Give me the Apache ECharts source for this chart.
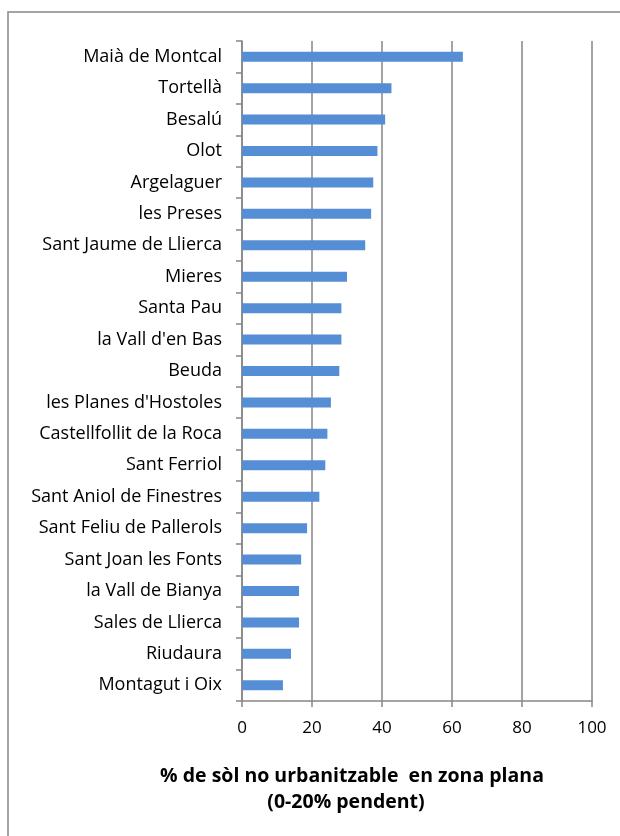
<!DOCTYPE html>
<html>
<head>
<meta charset="utf-8">
<script src="https://cdn.jsdelivr.net/npm/echarts@6/dist/echarts.min.js"></script>
<style>
  html, body { margin: 0; padding: 0; background: #fff; }
  #chart { width: 620px; height: 836px; }
</style>
</head>
<body>
<div id="chart"></div>
<script>
// municipalities, top to bottom as drawn
const municipis = [
  'Maià de Montcal', 'Tortellà', 'Besalú', 'Olot', 'Argelaguer', 'les Preses',
  'Sant Jaume de Llierca', 'Mieres', 'Santa Pau', "la Vall d'en Bas", 'Beuda',
  "les Planes d'Hostoles", 'Castellfollit de la Roca', 'Sant Ferriol',
  'Sant Aniol de Finestres', 'Sant Feliu de Pallerols', 'Sant Joan les Fonts',
  'la Vall de Bianya', 'Sales de Llierca', 'Riudaura', 'Montagut i Oix'
];
// % of non-developable land on flat terrain
const pctPla = [
  63.1, 42.7, 40.9, 38.7, 37.5, 36.9, 35.2, 30.0, 28.4, 28.4, 27.8,
  25.4, 24.4, 23.8, 22.1, 18.6, 16.9, 16.3, 16.3, 14.0, 11.7
];
const xTicks = [0, 20, 40, 60, 80, 100];
const axisTitle = ['% de sòl no urbanitzable  en zona plana', '(0-20% pendent)'];

const chart = echarts.init(document.getElementById('chart'));
const grey = '#868686';
const font = '"Open Sans", Lato, sans-serif';

chart.setOption({
  animation: false,
  textStyle: { fontFamily: font },
  grid: { left: 242, right: 28, top: 41, bottom: 135 },
  xAxis: {
    type: 'value',
    min: xTicks[0],
    max: xTicks[xTicks.length - 1],
    interval: 20,
    axisLine: { show: true, lineStyle: { color: grey, width: 1.5 } },
    axisTick: { show: true, length: 6, lineStyle: { color: grey, width: 1.5 } },
    splitLine: { show: true, lineStyle: { color: grey, width: 1.5 } },
    axisLabel: { color: '#000', fontSize: 17, margin: 19, fontFamily: font }
  },
  yAxis: {
    type: 'category',
    inverse: true,
    data: municipis,
    axisLine: { show: true, lineStyle: { color: grey, width: 1.5 } },
    axisTick: { show: true, length: 6, lineStyle: { color: grey, width: 1.5 } },
    axisLabel: { color: '#000', fontSize: 18, margin: 20, fontFamily: font }
  },
  series: [{
    type: 'bar',
    data: pctPla,
    barWidth: 10,
    itemStyle: { color: '#558ed5' }
  }],
  graphic: [
    {
      type: 'rect',
      shape: { x: 8, y: 12, width: 700, height: 900 },
      style: { fill: 'none', stroke: grey, lineWidth: 1.5 },
      silent: true
    },
    {
      type: 'text',
      x: 352, y: 776,
      style: {
        text: axisTitle[0], font: 'bold 19.5px ' + font, fill: '#000',
        align: 'center', verticalAlign: 'middle'
      }
    },
    {
      type: 'text',
      x: 346, y: 802,
      style: {
        text: axisTitle[1], font: 'bold 19.5px ' + font, fill: '#000',
        align: 'center', verticalAlign: 'middle'
      }
    }
  ]
});
</script>
</body>
</html>
